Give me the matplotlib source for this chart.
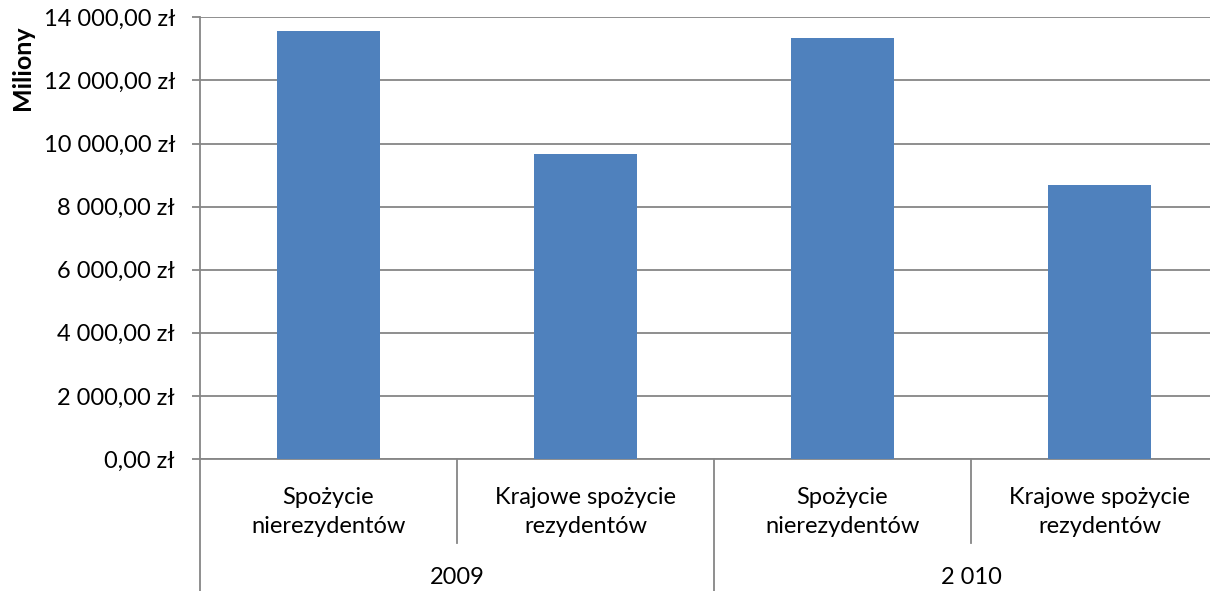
import matplotlib
matplotlib.use("Agg")
import matplotlib.pyplot as plt
from matplotlib.ticker import FuncFormatter, MultipleLocator
import matplotlib.transforms as mtrans

categories = ["Spożycie\nnierezydentów", "Krajowe spożycie\nrezydentów",
              "Spożycie\nnierezydentów", "Krajowe spożycie\nrezydentów"]
groups = ["2009", "2 010"]
values = [13560, 9670, 13330, 8690]

plt.rcParams['font.family'] = ['Lato', 'DejaVu Sans']
W, H = 1210, 591
fig = plt.figure(figsize=(W / 100, H / 100), dpi=100)
left, right, top, bottom = 200, 1228, 17.3, 459
ax = fig.add_axes([left / W, (H - bottom) / H, (right - left) / W, (bottom - top) / H])

FS = 17
x = list(range(len(values)))
ax.bar(x, values, width=0.4, color="#4F81BD", zorder=3)
ax.set_xlim(-0.5, len(values) - 0.5)
ax.set_ylim(0, 14000)
ax.yaxis.set_major_locator(MultipleLocator(2000))

def fmt(v, pos):
    s = f"{v:,.2f}".replace(",", " ").replace(".", ",")
    return s + " zł"

ax.yaxis.set_major_formatter(FuncFormatter(fmt))
ax.grid(axis="y", color="#868686", linewidth=1.3, zorder=0)
for s in ["top", "right"]:
    ax.spines[s].set_visible(False)
ax.spines["left"].set_visible(False)
ax.spines["bottom"].set_color("#868686")
ax.spines["bottom"].set_linewidth(1.3)
ax.tick_params(axis="y", length=6, width=1.3, color="#868686", pad=12, labelsize=FS)
ax.tick_params(axis="x", length=0, labelbottom=False)

# category labels
trans = mtrans.blended_transform_factory(ax.transData, fig.transFigure)
for xi, c in zip(x, categories):
    ax.text(xi, (H - 512) / H, c, transform=trans, ha="center", va="center",
            fontsize=FS, linespacing=1.45)
for gi, g in enumerate(groups):
    ax.text(gi * 2 + 0.5, (H - 577) / H, g, transform=trans, ha="center", va="center",
            fontsize=FS)

# separators
lc = "#868686"
for xs, y0 in [(-0.5, 0), (0.5, 543), (1.5, 0), (2.5, 543)]:
    ybot = 0 if y0 == 0 else (H - y0) / H
    ax.plot([xs, xs], [(H - bottom) / H if xs != -0.5 else 1 - top / H, ybot],
            transform=trans, color=lc, linewidth=1.3, clip_on=False, zorder=4)

fig.text(22 / W, (H - 68) / H, "Miliony", rotation=90, ha="center", va="center",
         fontsize=18, fontweight="bold")

fig.savefig("out.png", dpi=100)
